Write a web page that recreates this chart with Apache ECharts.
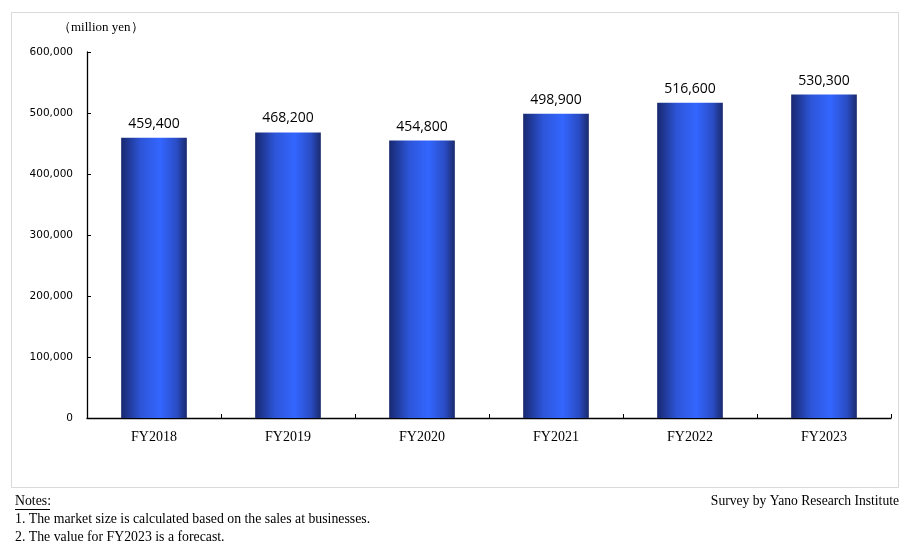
<!DOCTYPE html>
<html><head><meta charset="utf-8">
<script src="https://cdn.jsdelivr.net/npm/echarts@6/dist/echarts.min.js"></script>
<style>html,body{margin:0;padding:0;background:#fff}#c{width:916px;height:554px}</style>
</head><body><div id="c"></div>
<script>
const categories = ['FY2018','FY2019','FY2020','FY2021','FY2022','FY2023'];
const values = [459400, 468200, 454800, 498900, 516600, 530300];
const unitLabel = '（million yen）';
const notes = ['Notes:', '1. The market size is calculated based on the sales at businesses.', '2. The value for FY2023 is a forecast.'];
const source = 'Survey by Yano Research Institute';

const serif2 = '"Liberation Serif", "Times New Roman", serif';
const chart = echarts.init(document.getElementById('c'));
const barGrad = new echarts.graphic.LinearGradient(0, 0, 1, 0, [
  {offset: 0, color: '#18286f'},
  {offset: 0.3, color: '#2d55d8'},
  {offset: 0.6, color: '#3366ff'},
  {offset: 0.85, color: '#2a4cc4'},
  {offset: 1, color: '#1a2a6c'}
]);
chart.setOption({
  animation: false,
  grid: {left: 87, right: 25, top: 52, bottom: 136, containLabel: false},
  xAxis: {
    type: 'category', data: categories,
    axisLine: {lineStyle: {color: '#000', width: 1.3}},
    axisTick: {show: true, inside: true, length: 4, lineStyle: {color: '#000'}},
    axisLabel: {color: '#000', fontFamily: serif2, fontSize: 14, margin: 12}
  },
  yAxis: {
    type: 'value', min: 0, max: 600000, interval: 100000,
    splitLine: {show: false},
    axisLine: {show: true, lineStyle: {color: '#000', width: 1.3}},
    axisTick: {show: true, inside: true, length: 4, lineStyle: {color: '#000'}},
    axisLabel: {color: '#000', fontFamily: '"DejaVu Sans", sans-serif', fontSize: 10.5, margin: 14,
      formatter: v => v.toLocaleString('en-US')}
  },
  series: [{
    type: 'bar', data: values, barWidth: '49%',
    itemStyle: {color: barGrad},
    label: {show: true, position: 'top', distance: 7, color: '#000', fontSize: 14,
      fontFamily: '"Open Sans", "Liberation Sans", sans-serif',
      formatter: p => p.value.toLocaleString('en-US')}
  }],
  graphic: [
    {type: 'rect', shape: {x: 11.5, y: 12.5, width: 887, height: 475}, style: {fill: 'none', stroke: '#d9d9d9', lineWidth: 1}, z: -1},
    {type: 'text', left: 58, top: 21, style: {text: unitLabel, font: '13px ' + serif2, fill: '#000'}},
    {type: 'text', left: 15, top: 494, style: {text: notes[0], font: '13.8px ' + serif2, fill: '#000'}},
    {type: 'line', shape: {x1: 15, y1: 509.5, x2: 50, y2: 509.5}, style: {stroke: '#000', lineWidth: 1}},
    {type: 'text', left: 15, top: 512, style: {text: notes[1], font: '13.8px ' + serif2, fill: '#000'}},
    {type: 'text', left: 15, top: 530, style: {text: notes[2], font: '13.8px ' + serif2, fill: '#000'}},
    {type: 'text', right: 17, top: 494, style: {text: source, font: '13.6px ' + serif2, fill: '#000'}}
  ]
});
</script></body></html>
